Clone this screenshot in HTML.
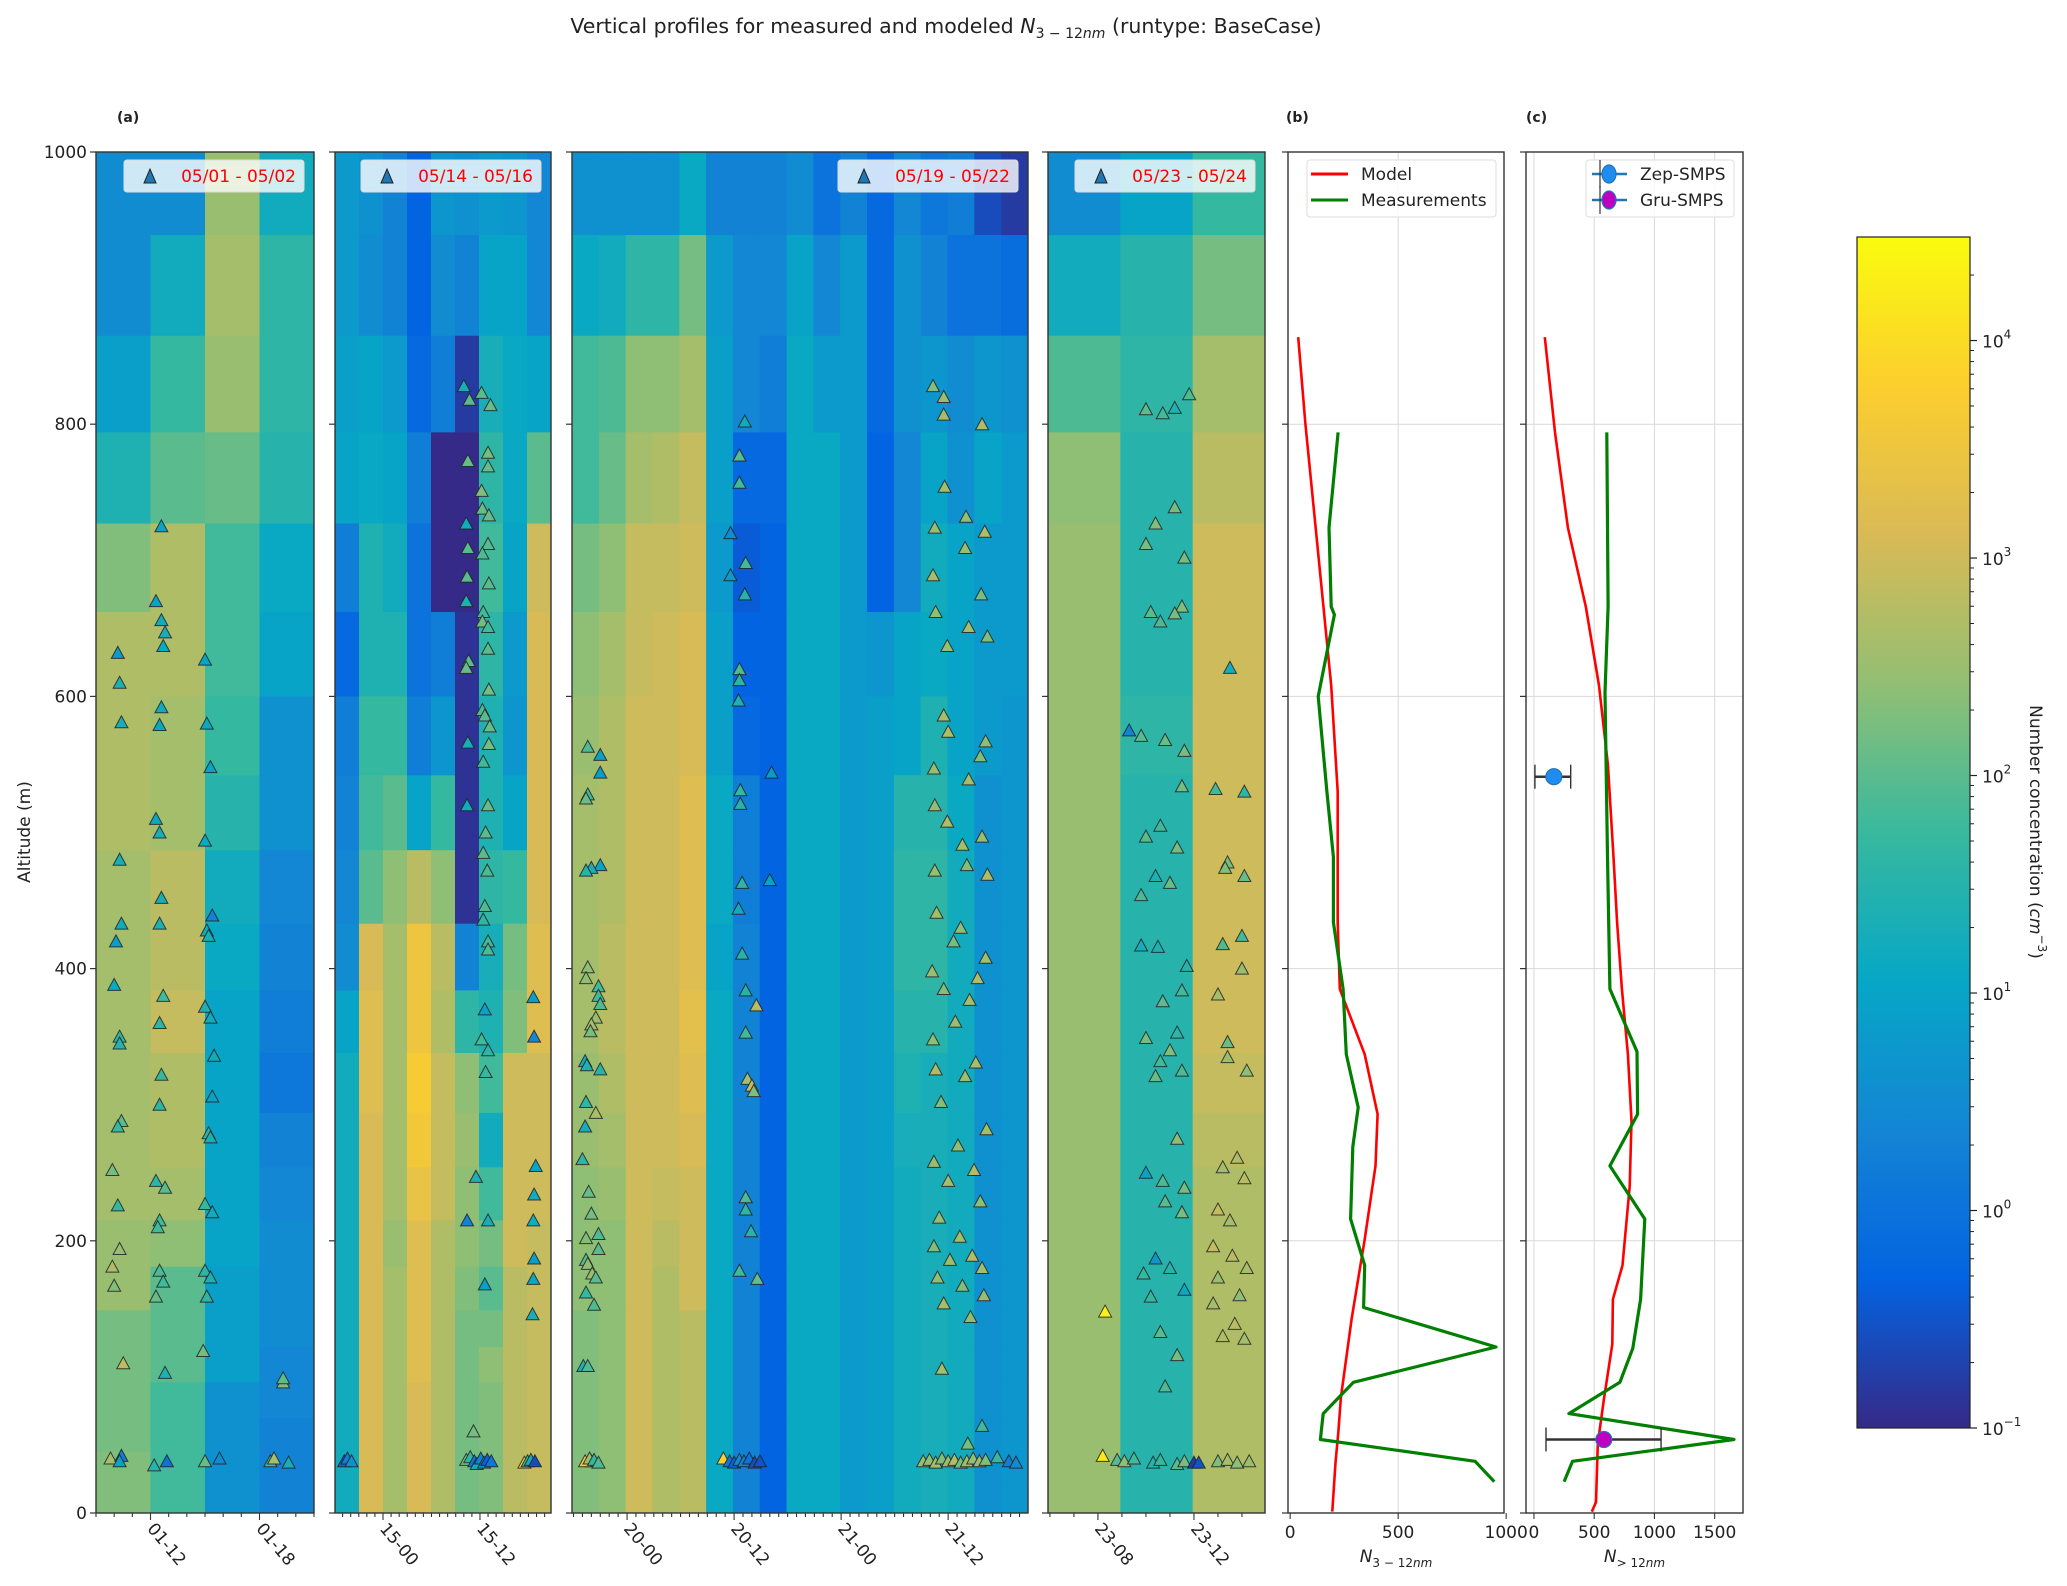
<!DOCTYPE html>
<html><head><meta charset="utf-8"><title>Vertical profiles</title>
<style>
html,body{margin:0;padding:0;background:#fff;}
svg{display:block;font-family:"DejaVu Sans","Liberation Sans",sans-serif;}
</style></head>
<body>
<svg id="fig" xmlns="http://www.w3.org/2000/svg" width="2067" height="1586" viewBox="0 0 2067 1586">
<rect x="0" y="0" width="2067" height="1586" fill="#fff"/>
<text x="946" y="33" text-anchor="middle" font-size="20.5" fill="#222">Vertical profiles for measured and modeled <tspan font-style="italic">N</tspan><tspan font-size="14" dy="5"><tspan>3 − 12</tspan><tspan font-style="italic">nm</tspan></tspan><tspan dy="-5"> (runtype: BaseCase)</tspan></text>
<text x="117" y="122" font-size="14" font-weight="bold" fill="#222">(a)</text>
<text x="1286" y="122" font-size="14" font-weight="bold" fill="#222">(b)</text>
<text x="1526" y="122" font-size="14" font-weight="bold" fill="#222">(c)</text>
<text x="0" y="0" transform="translate(30,832) rotate(-90)" text-anchor="middle" font-size="17" fill="#222">Altitude (m)</text>
<g id="layer"></g>
</svg>
<script>
// ---------- data ----------
const levels = [1000,939,865,794,727,662,600,542,487,433,384,338,294,254,215,181,149,122,96,70,45,20,0];

const a1Cols = [
 [0.5,0.5,0.9,1.4,2.3,2.7,2.7,2.7,2.6,2.6,2.6,2.6,2.6,2.6,2.5,2.5,2.2,2.2,2.2,2.2,2.3,2.3],
 [0.5,1.2,1.7,2.0,2.7,2.7,2.6,2.6,2.8,2.8,2.9,2.7,2.7,2.6,2.4,2.0,2.0,2.0,1.8,1.8,1.8,1.8],
 [2.5,2.6,2.5,2.1,1.8,1.8,1.7,1.5,1.2,1.1,1.0,1.0,1.0,1.0,1.0,0.9,0.9,0.9,0.6,0.6,0.6,0.6],
 [1.2,1.6,1.6,1.5,1.1,1.0,0.6,0.6,0.4,0.3,0.2,0.1,0.3,0.4,0.5,0.5,0.5,0.4,0.4,0.3,0.3,0.3]];
const a2Cols = [
 [0.8,0.8,0.9,1.0,0.2,-0.2,0.2,0.3,0.4,0.5,1.0,1.2],
 [0.6,0.5,1.0,1.1,1.4,1.4,1.7,1.8,2.0,3.1,3.2,3.2,3.1],
 [0.3,0.3,0.8,1.0,1.2,1.4,1.7,2.0,2.4,2.6,2.6,2.6,2.6,2.6,2.5,2.6],
 [-0.3,-0.3,-0.2,0.2,0.0,0.0,0.2,1.0,2.8,3.5,3.5,3.7,3.6,3.4,3.2,3.2,3.2,3.2,3.1],
 [0.7,0.5,0.2,-1,-1,0.2,0.7,1.7,2.4,2.8,2.7,2.9,2.9,2.9,2.7],
 [0.6,0.3,-0.8,-1,-1,-0.9,-0.9,-0.9,-0.9,0.3,1.6,2.4,2.5,2.4,2.4,2.3,2.2],
 [0.8,1.0,1.3,1.6,1.8,1.6,1.4,1.4,1.6,1.3,1.4,1.8,1.2,1.8,2.2,2.0,2.2,2.4,2.3],
 [0.7,1.0,1.1,1.1,1.0,0.8,0.7,1.0,1.7,2.2,2.3,3.0,3.0,3.0,3.0,2.8],
 [0.4,0.4,1.0,2.0,3.0,3.1,3.1,3.1,3.1,3.2,3.2,3.0,3.0,3.0,2.9]];
const a3Cols = [
 [0.6,1.1,1.8,1.8,2.2,2.4,2.5,2.6,2.6,2.6,2.6,2.5,2.5,2.4,2.4,2.4,2.3],
 [0.6,1.2,1.9,2.1,2.4,2.6,2.7,2.7,2.7,2.8,2.8,2.7,2.6,2.5,2.4,2.4],
 [0.6,1.6,2.4,2.6,2.9,2.9,3.0],
 [0.6,1.6,2.4,2.7,2.9,3.0,3.0,3.0,3.0,3.0,3.0,3.0,3.0,2.9,2.8,2.7],
 [1.1,2.2,2.6,2.9,3.0,3.1,3.1,3.2,3.2,3.2,3.3,3.2,3.1,3.0,3.0,3.0,2.8],
 [0.3,0.8,0.9,0.9,0.8,0.9,0.9,1.1,1.1,1.0,1.1],
 [0.3,0.4,0.4,-0.2,-0.4,-0.3,-0.2,0.2,0.2,0.3],
 [0.3,0.4,0.2,-0.2,-0.3],
 [0.5,1.0,1.1],
 [0.0,0.4,0.8,1.1],
 [0.3,0.8],
 [-0.2,-0.2,-0.2,-0.3,-0.3,0.7,0.9],
 [0.4,0.6,0.6,0.4,0.4,1.0,1.0,1.5,1.6,1.6,1.5,1.4,1.3,1.2],
 [0.1,0.3,0.7,1.0,1.2,1.1,1.4,1.5,1.6,1.6,1.5,1.3],
 [0.2,0.0,0.5,0.6,1.0,1.0,1.0,1.1,1.2],
 [-0.6,0.0,0.7,1.0,0.8,0.8,0.8,0.6],
 [-0.8,-0.1,0.6,0.8,0.8,0.8,0.7]];
const a4Cols = [
 [0.5,1.2,1.9,2.4,2.5],
 [1.0,1.5,1.6,1.5,1.5,1.5,1.6,1.5],
 [1.7,2.2,2.6,2.8,3.0,3.0,3.0,3.0,3.0,3.0,3.0,2.9,2.8,2.7]];

// measurement triangles (hour, altitude m, log10 conc)
const a1Hours = [10.2,10.3,10.4,10.3,10.4,10.1,10.0,10.3,10.3,10.4,10.2,9.9,10.2,10.3,9.9,10.0,10.5,9.8,10.4,10.3,
 12.6,12.3,12.6,12.8,12.7,12.6,12.5,12.3,12.5,12.6,12.5,12.7,12.5,12.6,12.5,12.3,12.8,12.5,12.4,12.5,12.7,12.3,12.8,12.2,12.9,
 15.0,15.1,15.3,15.0,15.4,15.1,15.2,15.0,15.3,15.5,15.4,15.2,15.3,15.0,15.4,15.0,15.3,15.1,14.9,15.0,15.8,
 19.3,19.3,18.6,18.8,19.6];
const a1Alts = [632,610,581,480,433,420,388,350,345,288,284,252,226,194,181,167,110,40,42,38,
 725,670,656,647,637,592,579,510,500,452,433,380,360,322,300,244,239,215,210,178,170,159,103,35,38,
 627,580,548,494,439,428,424,372,364,336,306,279,276,227,221,178,173,159,119,38,40,
 96,99,38,40,37];
const a1Vals = [0.8,1.4,1.3,1.3,1.2,0.9,1.1,1.6,1.5,2.0,1.7,2.2,1.7,2.5,2.7,2.3,2.8,2.6,0.2,1.0,
 1.0,1.0,1.2,1.3,1.1,1.2,1.1,1.1,1.3,1.3,1.4,1.8,1.6,1.7,1.6,1.6,2.0,1.8,1.8,1.9,1.8,2.1,1.4,1.5,0.0,
 1.0,1.1,1.0,1.1,0.3,1.2,1.3,1.4,1.2,1.2,1.0,1.6,1.4,1.7,1.2,1.6,1.4,1.6,2.2,2.1,0.5,
 2.3,2.0,1.8,2.6,1.3];

const a2Hours = [10.0,10.7,10.5,10.3,10.5,10.4,10.3,10.6,10.3,10.5,10.4,10.4,11.2,
 12.2,13.3,13.0,13.0,12.2,12.3,13.1,13.0,12.3,13.1,12.4,12.3,13.0,13.0,13.1,12.3,12.6,13.2,13.1,12.4,13.0,12.7,12.4,12.9,12.6,12.4,13.0,13.0,12.6,12.2,13.0,12.7,11.5,13.0,12.6,
 18.6,18.7,18.9,18.7,18.6,18.7,18.6,18.5,
 -4.8,-4.4,-3.9,10.3,10.8,11.3,11.6,12.1,12.5,12.9,13.4,17.5,17.9,18.3,18.8];
const a2Alts = [828,818,773,727,709,688,670,626,621,566,520,215,60,
 823,814,779,769,751,738,733,712,705,683,662,655,651,635,605,590,586,578,565,552,520,500,485,472,446,436,420,414,370,348,340,324,247,215,168,
 379,350,255,234,215,187,172,146,
 38,40,38,39,41,38,36,40,37,39,38,37,38,39,38];
const a2Vals = [1.3,2.0,2.1,1.2,2.0,2.0,1.4,2.0,2.1,1.3,1.2,0.3,2.2,
 2.0,2.1,2.2,2.1,2.3,2.1,2.1,2.0,1.9,2.0,1.8,2.2,1.8,2.0,2.2,1.9,2.0,2.1,2.2,1.8,2.1,2.0,2.0,1.9,1.9,1.6,1.8,1.9,1.0,1.8,1.6,1.7,1.4,1.3,0.9,
 0.9,0.4,1.0,1.2,1.2,0.9,1.1,1.3,
 -0.2,0.2,0.6,2.2,1.6,0.0,1.2,0.3,0.5,-0.3,0.1,3.8,1.8,1.2,-0.6];

const a3Hours = [-4.4,-3.0,-3.0,-4.4,-4.6,-3.0,-4.0,-4.6,-4.4,-4.6,-3.2,-3.2,-3.0,-3.5,-4.0,-4.1,-4.7,-4.5,-3.0,-4.6,-3.5,-4.7,-5.0,-4.3,-4.0,-3.2,-4.6,-3.2,-4.6,-4.4,-3.9,-3.5,-4.6,-3.7,-4.9,-4.4,-4.0,
 13.2,12.6,12.6,11.6,13.3,11.6,13.2,12.6,12.6,12.5,12.7,12.7,12.9,12.5,12.9,13.3,14.5,13.3,13.5,14.0,14.2,13.3,13.3,13.9,12.6,14.6,16.2,16.0,
 34.3,35.5,35.5,39.8,35.6,38.0,34.5,40.1,37.9,34.3,39.7,34.6,38.3,40.4,35.9,35.5,36.0,40.2,39.6,34.4,38.3,34.5,35.9,39.8,37.6,38.1,34.5,40.4,34.7,37.4,36.6,40.2,34.2,39.3,35.5,38.4,36.8,34.3,39.1,34.6,37.9,35.2,40.3,37.1,34.4,38.9,36.0,39.6,35.0,37.3,34.4,38.7,36.2,39.8,34.8,37.6,40.0,35.5,38.5,35.3,39.8,38.2,
 -4.7,-4.2,-3.7,-3.2,10.8,11.5,12.0,12.6,13.1,13.7,14.3,14.9,33.2,33.9,34.6,35.3,36.0,36.7,37.4,38.1,38.8,39.5,40.2,41.5,42.8,43.6];
const a3Alts = [563,557,544,528,525,476,474,472,401,393,387,380,374,364,359,354,332,329,326,302,294,284,260,236,220,205,202,194,186,183,176,173,162,153,108,108,38,
 802,777,757,720,698,689,675,620,612,597,531,521,463,444,411,384,373,353,319,314,310,232,223,207,178,172,544,465,
 828,820,807,800,754,732,724,721,709,689,675,662,651,644,637,586,574,567,556,547,539,520,508,497,491,476,472,469,441,430,420,408,398,393,385,377,361,348,331,326,321,302,282,270,258,252,244,229,217,203,196,189,186,180,173,167,160,154,144,106,64,51,
 38,40,39,37,40,38,37,39,38,40,37,38,38,39,37,40,38,39,37,38,40,38,39,41,38,37];
const a3Vals = [1.9,0.9,0.9,1.8,2.1,1.0,1.3,1.5,2.4,2.4,1.8,1.8,1.9,2.5,2.6,2.2,1.2,1.4,1.5,1.6,2.6,1.3,1.6,2.1,2.2,1.9,2.3,2.0,2.0,2.4,2.5,2.0,1.7,1.9,1.4,1.9,2.2,
 1.2,2.0,1.8,0.5,1.8,0.8,1.5,1.9,1.6,1.4,1.7,1.5,1.6,1.2,1.5,1.5,2.8,1.8,2.6,2.9,2.3,1.9,1.6,1.5,1.8,2.1,0.8,1.0,
 2.3,2.5,2.6,2.7,2.6,2.4,2.5,2.7,2.5,2.6,2.2,2.4,2.6,2.3,2.5,2.6,2.7,2.4,2.3,2.5,2.6,2.4,2.7,2.5,2.6,2.3,2.5,2.7,2.6,2.4,2.2,2.6,2.5,2.7,2.3,2.6,2.5,2.4,2.6,2.7,2.5,2.3,2.6,2.4,2.5,2.7,2.6,2.4,2.5,2.6,2.3,2.7,2.5,2.6,2.4,2.3,2.5,2.6,2.4,2.6,1.8,2.2,
 3.6,2.5,1.7,1.9,3.8,0.0,-0.3,0.5,0.3,0.0,-0.6,-0.5,2.5,2.4,2.6,2.3,2.5,2.7,2.2,2.6,2.4,2.5,2.3,1.7,0.2,0.5];

const a4Hours = [11.8,10.0,10.7,11.2,11.2,10.4,10.0,11.6,11.5,10.2,10.6,11.2,9.3,9.8,10.8,11.6,11.5,10.6,10.0,11.3,10.4,11.0,9.8,9.8,10.5,11.7,11.5,10.7,11.3,10.0,11.0,10.6,11.5,10.4,11.3,10.0,10.7,11.6,10.8,11.5,10.4,11.0,9.9,11.6,10.2,10.6,11.3,10.8,
 13.5,12.9,14.1,13.4,13.3,14.1,14.0,13.2,14.0,13.0,13.4,13.4,14.2,13.8,13.2,14.1,13.0,13.5,12.8,13.6,14.2,13.0,13.9,12.8,13.7,13.2,14.1,8.3,
 8.2,8.8,9.1,9.5,10.3,10.6,11.3,11.6,12.0,12.2,13.0,13.4,13.8,14.3];
const a4Alts = [822,811,808,812,739,727,712,702,666,662,655,661,575,571,568,560,534,505,497,489,468,463,454,417,416,402,384,376,353,349,340,332,325,321,275,250,244,239,229,221,187,180,176,164,159,133,116,93,
 621,532,530,478,474,468,424,418,400,381,346,335,325,261,254,246,223,215,196,189,180,173,160,154,139,130,128,148,
 42,39,38,40,37,39,36,38,37,37,38,39,37,38];
const a4Vals = [1.9,2.0,1.8,1.4,2.2,2.3,2.2,2.2,2.3,2.0,1.9,2.2,0.3,2.0,2.1,2.2,2.2,1.8,2.0,2.2,1.4,2.1,1.9,1.3,1.4,1.5,1.8,2.0,1.6,2.2,2.3,1.8,1.9,2.1,2.4,1.0,1.9,2.2,2.0,2.2,0.7,1.5,1.7,1.1,1.7,2.0,2.2,1.9,
 1.3,1.8,1.6,2.2,2.3,2.1,1.8,1.9,2.5,2.6,2.1,2.5,2.4,2.7,2.6,2.8,2.9,2.6,2.9,2.8,2.6,2.5,2.4,2.6,2.8,2.7,2.6,4.3,
 4.2,2.0,2.4,1.8,1.5,1.7,2.0,2.2,-0.8,-0.5,2.3,2.6,2.4,2.5];

// panel (b): N3-12nm profiles
const bModelVals = [37,70,130,190,220,220,230,345,405,395,345,285,235,223,210,195];
const bModelAlts = [864,801,705,608,530,434,385,337,293,255,201,143,85,59,37,1];
const bMeasVals = [222,180,190,205,130,170,200,200,245,260,315,290,280,345,340,953,293,153,140,856,945];
const bMeasAlts = [794,724,666,660,600,530,482,434,385,337,298,269,216,182,151,122,96,73,54,38,23];
// panel (c): N>12nm profiles
const cModelVals = [90,175,282,430,540,614,660,690,730,780,810,795,735,655,650,580,530,515,480];
const cModelAlts = [864,794,724,666,608,550,482,434,385,337,288,240,182,157,124,83,51,8,1];
const cMeasVals = [605,615,590,610,630,855,860,630,920,885,820,713,290,1660,320,250];
const cMeasAlts = [794,666,603,482,385,339,293,255,216,157,121,96,73,54,38,23];
const smpsNames = ['Zep-SMPS','Gru-SMPS'];
const smpsVals = [165,580];
const smpsLow = [8,100];
const smpsHigh = [305,1055];
const smpsAlts = [541,54];

// ---------- helpers ----------
const NS='http://www.w3.org/2000/svg';
const layer=document.getElementById('layer');
function mk(tag,attrs,parent){const e=document.createElementNS(NS,tag);for(const k in attrs)e.setAttribute(k,attrs[k]);(parent||layer).appendChild(e);return e;}
const stops=[[0,[53,42,135]],[0.125,[3,99,225]],[0.25,[20,133,212]],[0.375,[6,167,198]],[0.5,[56,185,158]],[0.625,[146,191,115]],[0.75,[217,186,86]],[0.875,[252,206,46]],[1,[249,251,14]]];
const VMIN=-1, VMAX=4.476;
function cmap(v){let t=(v-VMIN)/(VMAX-VMIN);t=Math.max(0,Math.min(1,t));
 for(let i=1;i<stops.length;i++){if(t<=stops[i][0]){const a=stops[i-1],b=stops[i];const f=(t-a[0])/(b[0]-a[0]);
 const c=a[1].map((x,j)=>Math.round(x+(b[1][j]-x)*f));return `rgb(${c[0]},${c[1]},${c[2]})`;}}return 'rgb(249,251,14)';}
const Y0=1513, YK=1.361;
function yS(a){return Y0-a*YK;}

const panels=[
 {name:'panel-a1',x0:96,x1:314,h0:9.0,h1:21.0,cols:a1Cols,hrs:a1Hours,alts:a1Alts,vals:a1Vals,ticks:[12,18],tl:['01-12','01-18'],leg:'05/01 - 05/02',ylab:true},
 {name:'panel-a2',x0:335,x1:551,h0:-5.94,h1:20.79,cols:a2Cols,hrs:a2Hours,alts:a2Alts,vals:a2Vals,ticks:[0,12],tl:['15-00','15-12'],leg:'05/14 - 05/16'},
 {name:'panel-a3',x0:572,x1:1028,h0:-6.17,h1:44.95,cols:a3Cols,hrs:a3Hours,alts:a3Alts,vals:a3Vals,ticks:[0,12,24,36],tl:['20-00','20-12','21-00','21-12'],leg:'05/19 - 05/22'},
 {name:'panel-a4',x0:1048,x1:1265,h0:5.92,h1:14.96,cols:a4Cols,hrs:a4Hours,alts:a4Alts,vals:a4Vals,ticks:[8,12],tl:['23-08','23-12'],leg:'05/23 - 05/24'}];

function yAxisTicks(g,x0,withLabels){
 for(let a=0;a<=1000;a+=200){
  const t=mk('line',{x1:x0-6,x2:x0,y1:yS(a),y2:yS(a),stroke:'#333','stroke-width':1.2},g);
  
  if(withLabels){const l=mk('text',{x:x0-9,y:yS(a)+6,'text-anchor':'end','font-size':17,fill:'#222'},g);l.textContent=a;
   }
 }
}

panels.forEach((p,pi)=>{
 const g=mk('g',{});
 
 
 const xS=h=>p.x0+(h-p.h0)/(p.h1-p.h0)*(p.x1-p.x0);
 const cp=mk('clipPath',{id:'clip'+pi},g);mk('rect',{x:p.x0,y:yS(1000),width:p.x1-p.x0,height:yS(0)-yS(1000)},cp);
 const hm=mk('g',{'clip-path':`url(#clip${pi})`},g);
 
 
 const n=p.cols.length, cw=(p.x1-p.x0)/n;
 p.cols.forEach((col,ci)=>{
  for(let b=0;b<levels.length-1;b++){
   const v=col[Math.min(b,col.length-1)];
   const r=mk('rect',{x:p.x0+ci*cw,y:yS(levels[b]),width:cw+0.6,height:yS(levels[b+1])-yS(levels[b])+0.6,fill:cmap(v)},hm);
   
   
  }
 });
 const tg=mk('g',{'clip-path':`url(#clip${pi})`},g);
 p.hrs.forEach((h,i)=>{
  const x=xS(h), y=yS(p.alts[i]);const v=p.vals[i]!==undefined?p.vals[i]:2;
  const tri=mk('path',{d:`M${x-6.5},${y+5.5} L${x+6.5},${y+5.5} L${x},${y-6.5} Z`,fill:cmap(v),stroke:'#222','stroke-width':1,'stroke-opacity':0.85},tg);
  
  
 });
 mk('rect',{x:p.x0,y:yS(1000),width:p.x1-p.x0,height:yS(0)-yS(1000),fill:'none',stroke:'#333','stroke-width':1.4},g);
 for(let h=Math.ceil(p.h0);h<=p.h1;h++){
  const major=p.ticks.includes(h);
  const t=mk('line',{x1:xS(h),x2:xS(h),y1:Y0,y2:Y0+(major?7:4),stroke:'#333','stroke-width':1.1},g);
  
 }
 p.ticks.forEach((h,i)=>{
  const l=mk('text',{x:0,y:0,transform:`translate(${xS(h)-4},${Y0+16}) rotate(50)`,'font-size':17,fill:'#222'},g);
  l.textContent=p.tl[i];
  
 });
 yAxisTicks(g,p.x0,!!p.ylab);
 const lx=p.x1-190, ly=160;
 const lg=mk('g',{},g);
 
 
 mk('rect',{x:lx,y:ly,width:180,height:32,rx:3,fill:'rgba(255,255,255,0.8)',stroke:'#ddd'},lg);
 mk('path',{d:`M${lx+20},${ly+23} L${lx+32},${ly+23} L${lx+26},${ly+9} Z`,fill:'#1f77b4',stroke:'#222','stroke-width':1},lg);
 const lt=mk('text',{x:lx+172,y:ly+22,'text-anchor':'end','font-size':17,fill:'#ff0000'},lg);lt.textContent=p.leg;
});

// ---------- line panels ----------
function linePanel(name,x0,x1,vmin,vmax,gridV,tickV,series,xlabelSub){
 const g=mk('g',{});
 
 
 const xS=v=>x0+(v-vmin)/(vmax-vmin)*(x1-x0);
 gridV.forEach(v=>{const l=mk('line',{x1:xS(v),x2:xS(v),y1:yS(1000),y2:Y0,stroke:'#d9d9d9','stroke-width':1},g);
  });
 for(let a=200;a<1000;a+=200){const l=mk('line',{x1:x0,x2:x1,y1:yS(a),y2:yS(a),stroke:'#d9d9d9','stroke-width':1},g);
  }
 const cp=mk('clipPath',{id:'clip'+name},g);mk('rect',{x:x0,y:yS(1000),width:x1-x0,height:Y0-yS(1000)},cp);
 const sg=mk('g',{'clip-path':`url(#clip${name})`},g);
 series.forEach(s=>{
  const d=s.vals.map((v,i)=>(i?'L':'M')+xS(v).toFixed(1)+','+yS(s.alts[i]).toFixed(1)).join(' ');
  const pth=mk('path',{d:d,fill:'none',stroke:s.color,'stroke-width':s.w,'stroke-linejoin':'round'},sg);
  
  
 });
 mk('rect',{x:x0,y:yS(1000),width:x1-x0,height:Y0-yS(1000),fill:'none',stroke:'#333','stroke-width':1.4},g);
 tickV.forEach(v=>{
  const t=mk('line',{x1:xS(v),x2:xS(v),y1:Y0,y2:Y0+6,stroke:'#333','stroke-width':1.1},g);
  
  const l=mk('text',{x:xS(v),y:Y0+25,'text-anchor':'middle','font-size':17,fill:'#222'},g);l.textContent=v;
  
 });
 yAxisTicks(g,x0,false);
 const xl=mk('text',{x:(x0+x1)/2,y:1562,'text-anchor':'middle','font-size':17,fill:'#222'},g);
 
 xl.innerHTML=`<tspan font-style="italic">N</tspan><tspan font-size="12" dy="5">${xlabelSub}</tspan><tspan font-size="12" font-style="italic">nm</tspan>`;
 return {g,xS};
}
const pb=linePanel('panel-b',1288,1504,-10,990,[500],[0,500,1000],
 [{name:'model-line',vals:bModelVals,alts:bModelAlts,color:'#ff0000',w:2.6},{name:'measurement-line',vals:bMeasVals,alts:bMeasAlts,color:'#007f00',w:3.2}],'3 − 12');
const pc=linePanel('panel-c',1526,1743,-66,1735,[0,500,1000,1500],[0,500,1000,1500],
 [{name:'model-line',vals:cModelVals,alts:cModelAlts,color:'#ff0000',w:2.6},{name:'measurement-line',vals:cMeasVals,alts:cMeasAlts,color:'#007f00',w:3.2}],'&gt; 12');
const smpsColors=['#1e8cf0','#c000c0'];
smpsVals.forEach((v,i)=>{
 const g=mk('g',{},pc.g);
 
 
 const y=yS(smpsAlts[i]);
 mk('line',{x1:pc.xS(smpsLow[i]),x2:pc.xS(smpsHigh[i]),y1:y,y2:y,stroke:'#333','stroke-width':2.5},g);
 mk('line',{x1:pc.xS(smpsLow[i]),x2:pc.xS(smpsLow[i]),y1:y-12,y2:y+12,stroke:'#333','stroke-width':1.4},g);
 mk('line',{x1:pc.xS(smpsHigh[i]),x2:pc.xS(smpsHigh[i]),y1:y-12,y2:y+12,stroke:'#333','stroke-width':1.4},g);
 mk('circle',{cx:pc.xS(v),cy:y,r:8,fill:smpsColors[i],stroke:'#1f77b4','stroke-width':1.2},g);
});

(function(){
 const g=mk('g',{});
 
 
 mk('rect',{x:1307,y:160,width:189,height:57,rx:3,fill:'rgba(255,255,255,0.85)',stroke:'#ddd'},g);
 mk('line',{x1:1311,x2:1348,y1:174,y2:174,stroke:'#ff0000','stroke-width':3},g);
 mk('line',{x1:1311,x2:1348,y1:200,y2:200,stroke:'#007f00','stroke-width':3},g);
 const t1=mk('text',{x:1361,y:180,'font-size':17,fill:'#222'},g);t1.textContent='Model';
 const t2=mk('text',{x:1361,y:206,'font-size':17,fill:'#222'},g);t2.textContent='Measurements';
 const h=mk('g',{});
 
 
 mk('rect',{x:1586,y:160,width:148,height:57,rx:3,fill:'rgba(255,255,255,0.85)',stroke:'#ddd'},h);
 [174,200].forEach((yy,i)=>{
  mk('line',{x1:1592,x2:1627,y1:yy,y2:yy,stroke:'#1f77b4','stroke-width':2.5},h);
  mk('line',{x1:1600,x2:1600,y1:yy-14,y2:yy+14,stroke:'#333','stroke-width':1.2},h);
  mk('ellipse',{cx:1609,cy:yy,rx:7,ry:9,fill:smpsColors[i],stroke:'#1f77b4','stroke-width':1.2},h);
  const t=mk('text',{x:1640,y:yy+6,'font-size':17,fill:'#222'},h);t.textContent=smpsNames[i];
 });
})();

// ---------- colorbar ----------
(function(){
 const g=mk('g',{});
 
 
 const cbT=237,cbB=1428,cbL=1857,cbR=1970;
 const defs=mk('defs',{},g);
 const lg=mk('linearGradient',{id:'cbgrad',x1:0,y1:1,x2:0,y2:0},defs);
 for(let i=0;i<=40;i++){const t=i/40;mk('stop',{offset:t,'stop-color':cmap(VMIN+t*(VMAX-VMIN))},lg);}
 mk('rect',{x:cbL,y:cbT,width:cbR-cbL,height:cbB-cbT,fill:'url(#cbgrad)',stroke:'#222','stroke-width':1.2},g);
 const cy=v=>cbB-(v-VMIN)/(VMAX-VMIN)*(cbB-cbT);
 for(let k=-1;k<=4;k++){
  const t=mk('line',{x1:cbR,x2:cbR+7,y1:cy(k),y2:cy(k),stroke:'#222','stroke-width':1.2},g);
  
  const l=mk('text',{x:cbR+12,y:cy(k)+7,'font-size':17,fill:'#222'},g);
  
  l.innerHTML=`10<tspan font-size="12" dy="-9">${k<0?'−'+(-k):k}</tspan>`;
  for(let m=2;m<=9;m++){const v=k+Math.log10(m);if(v<VMAX){mk('line',{x1:cbR,x2:cbR+4,y1:cy(v),y2:cy(v),stroke:'#222','stroke-width':1},g);}}
 }
 const lab=mk('text',{x:0,y:0,transform:'translate(2030,832) rotate(90)','text-anchor':'middle','font-size':17,fill:'#222'},g);
 
 lab.innerHTML='Number concentration (<tspan font-style="italic">cm</tspan><tspan font-size="12" dy="-8">−3</tspan><tspan dy="8">)</tspan>';
})();
</script>
</body></html>
